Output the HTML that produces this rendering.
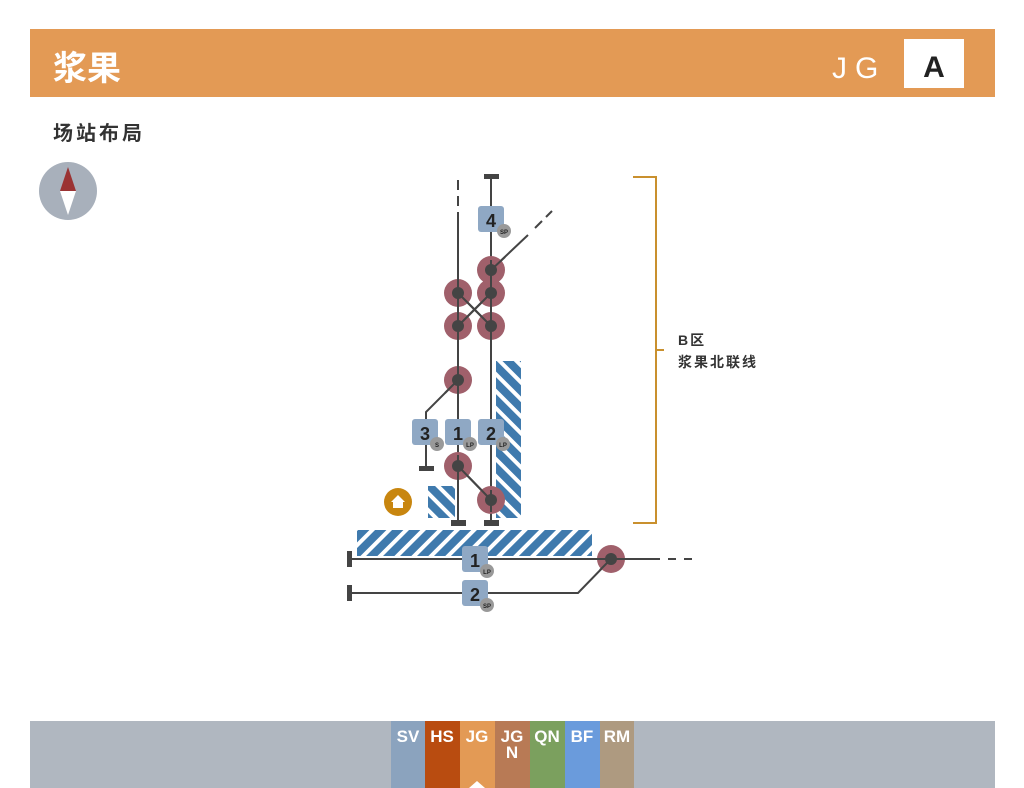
<!DOCTYPE html>
<html><head><meta charset="utf-8"><style>
html,body{margin:0;padding:0;background:#fff;width:1024px;height:788px;overflow:hidden}
svg{display:block}
text{font-family:"Liberation Sans","Noto Sans CJK SC",sans-serif}
</style></head><body>
<svg width="1024" height="788" viewBox="0 0 1024 788" xmlns="http://www.w3.org/2000/svg">
<defs>
<pattern id="h" patternUnits="userSpaceOnUse" width="12" height="12" patternTransform="rotate(45)">
<rect width="12" height="12" fill="#3F7AAD"/><rect x="0" width="4" height="12" fill="#fff"/>
</pattern>
<pattern id="h2" patternUnits="userSpaceOnUse" width="12" height="12" patternTransform="rotate(-45)">
<rect width="12" height="12" fill="#3F7AAD"/><rect x="0" width="4" height="12" fill="#fff"/>
</pattern>
</defs>
<rect x="30" y="29" width="965" height="68" fill="#E39A55"/>
<text x="53" y="80" font-size="34" font-weight="bold" fill="#fff">浆果</text>
<text x="832" y="78" font-size="30" fill="#fff" letter-spacing="8">JG</text>
<rect x="904" y="39" width="60" height="49" fill="#fff"/>
<text x="934" y="77" font-size="30" font-weight="bold" fill="#222" text-anchor="middle">A</text>
<text x="53" y="140" font-size="20" font-weight="bold" fill="#333" letter-spacing="3">场站布局</text>
<circle cx="68" cy="191" r="29" fill="#A8B0BB"/>
<polygon points="68,167 60,191 76,191" fill="#9B3333"/>
<polygon points="68,215 60,191 76,191" fill="#fff"/>

<rect x="496" y="361" width="25" height="157" fill="url(#h2)"/>
<rect x="428" y="486" width="27" height="32" fill="url(#h2)"/>
<rect x="357" y="530" width="235" height="26" fill="url(#h)"/>

<g stroke="#444" stroke-width="2" fill="none">
<line x1="458" y1="180" x2="458" y2="190" />
<line x1="458" y1="196" x2="458" y2="206" />
<line x1="458" y1="212" x2="458" y2="522"/>
<line x1="491" y1="177" x2="491" y2="522"/>
<line x1="458" y1="293" x2="491" y2="326"/>
<line x1="491" y1="293" x2="458" y2="326"/>
<line x1="491" y1="270" x2="528" y2="235"/>
<line x1="535" y1="228" x2="542" y2="221"/>
<line x1="546" y1="217" x2="552" y2="211"/>
<polyline points="458,380 426,412 426,468"/>
<line x1="458" y1="466" x2="491" y2="500"/>
<line x1="350" y1="559" x2="660" y2="559"/>
<line x1="668" y1="559" x2="676" y2="559"/>
<line x1="684" y1="559" x2="692" y2="559"/>
<polyline points="350,593 578,593 611,559"/>
</g>
<g fill="#444">
<rect x="484" y="174" width="15" height="5"/>
<rect x="419" y="466" width="15" height="5"/>
<rect x="451" y="520" width="15" height="6"/>
<rect x="484" y="520" width="15" height="6"/>
<rect x="347" y="551" width="5" height="16"/>
<rect x="347" y="585" width="5" height="16"/>
</g>
<g>
<g fill="#A0606B">
<circle cx="491" cy="270" r="14"/><circle cx="458" cy="293" r="14"/><circle cx="491" cy="293" r="14"/>
<circle cx="458" cy="326" r="14"/><circle cx="491" cy="326" r="14"/><circle cx="458" cy="380" r="14"/>
<circle cx="458" cy="466" r="14"/><circle cx="491" cy="500" r="14"/><circle cx="611" cy="559" r="14"/>
</g>
<g fill="#444">
<circle cx="491" cy="270" r="6"/><circle cx="458" cy="293" r="6"/><circle cx="491" cy="293" r="6"/>
<circle cx="458" cy="326" r="6"/><circle cx="491" cy="326" r="6"/><circle cx="458" cy="380" r="6"/>
<circle cx="458" cy="466" r="6"/><circle cx="491" cy="500" r="6"/><circle cx="611" cy="559" r="6"/>
</g>
<g stroke="#444" stroke-width="2">
<line x1="458" y1="293" x2="491" y2="326"/><line x1="491" y1="293" x2="458" y2="326"/>
<line x1="491" y1="270" x2="505" y2="257"/><line x1="458" y1="380" x2="445" y2="393"/>
<line x1="458" y1="466" x2="491" y2="500"/><line x1="458" y1="270" x2="458" y2="400"/>
<line x1="491" y1="260" x2="491" y2="340"/><line x1="458" y1="455" x2="458" y2="480"/>
<line x1="491" y1="490" x2="491" y2="512"/><line x1="597" y1="559" x2="625" y2="559"/>
<line x1="611" y1="559" x2="600" y2="570"/>
</g>
</g>
<g font-weight="bold" text-anchor="middle">
<g fill="#8FA8C4"><rect x="478" y="206" width="26" height="26" rx="3"/><rect x="412" y="419" width="26" height="26" rx="3"/><rect x="445" y="419" width="26" height="26" rx="3"/><rect x="478" y="419" width="26" height="26" rx="3"/><rect x="462" y="546" width="26" height="26" rx="3"/><rect x="462" y="580" width="26" height="26" rx="3"/></g>
<g fill="#222" font-size="18"><text x="491" y="227">4</text><text x="425" y="440">3</text><text x="458" y="440">1</text><text x="491" y="440">2</text><text x="475" y="567">1</text><text x="475" y="601">2</text></g>
<g fill="#999"><circle cx="504" cy="231" r="7"/><circle cx="437" cy="444" r="7"/><circle cx="470" cy="444" r="7"/><circle cx="503" cy="444" r="7"/><circle cx="487" cy="571" r="7"/><circle cx="487" cy="605" r="7"/></g>
<g fill="#222" font-size="6"><text x="504" y="234">SP</text><text x="437" y="447">S</text><text x="470" y="447">LP</text><text x="503" y="447">LP</text><text x="487" y="574">LP</text><text x="487" y="608">SP</text></g>
</g>
<circle cx="398" cy="502" r="14" fill="#C8860F"/>
<polygon points="398,495 391,502 393,502 393,508 403,508 403,502 405,502" fill="#fff"/>
<path d="M633 177 H656 V523 H633 M656 350 H664" stroke="#C9902E" stroke-width="2" fill="none"/>
<text x="678" y="345" font-size="14" font-weight="bold" fill="#333" letter-spacing="2">B区</text>
<text x="678" y="367" font-size="14" font-weight="bold" fill="#333" letter-spacing="2">浆果北联线</text>

<rect x="30" y="721" width="965" height="67" fill="#B0B7C0"/>
<rect x="391" y="721" width="34" height="67" fill="#8BA3BE"/>
<rect x="425" y="721" width="35" height="67" fill="#B94C10"/>
<rect x="460" y="721" width="35" height="67" fill="#E39A55"/>
<rect x="495" y="721" width="35" height="67" fill="#B87A55"/>
<rect x="530" y="721" width="35" height="67" fill="#7BA05E"/>
<rect x="565" y="721" width="35" height="67" fill="#6A9BDC"/>
<rect x="600" y="721" width="34" height="67" fill="#AE9A80"/>
<polygon points="469,788 477,781 485,788" fill="#fff"/>
<g fill="#fff" font-size="17" font-weight="bold" text-anchor="middle">
<text x="408" y="742">SV</text><text x="442" y="742">HS</text><text x="477" y="742">JG</text><text x="512" y="742">JG</text><text x="512" y="758">N</text><text x="547" y="742">QN</text><text x="582" y="742">BF</text><text x="617" y="742">RM</text>
</g>
</svg>
</body></html>
